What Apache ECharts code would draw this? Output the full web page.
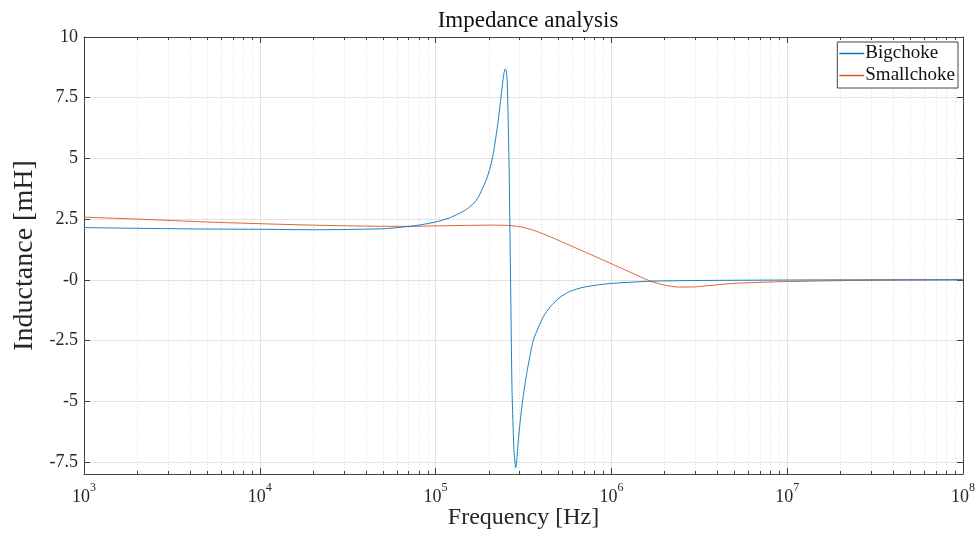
<!DOCTYPE html>
<html>
<head>
<meta charset="utf-8">
<script src="https://cdn.jsdelivr.net/npm/echarts@6/dist/echarts.min.js"></script>
<style>html,body{margin:0;padding:0;background:#fff}#c{width:979px;height:533px}</style>
</head>
<body>
<div id="c"></div>
<script>
// ---- data ----
const bigFreq = [1e3,2e3,5e3,1e4,2e4,3e4,5e4,6.3e4,8e4,1e5,1.2e5,1.35e5,1.5e5,1.65e5,1.75e5,1.87e5,1.95e5,2.05e5,2.13e5,2.2e5,2.28e5,2.34e5,2.40e5,2.44e5,2.47e5,2.49e5,2.52e5,2.55e5,2.58e5,2.62e5,2.67e5,2.72e5,2.79e5,2.84e5,2.86e5,2.89e5,2.94e5,3.02e5,3.15e5,3.3e5,3.45e5,3.6e5,3.85e5,4.1e5,4.5e5,5.1e5,5.8e5,6.9e5,8.6e5,1.0e6,1.66e6,3e6,1e7,3e7,1e8];
const bigVal  = [2.15,2.12,2.09,2.08,2.06,2.07,2.10,2.16,2.25,2.38,2.55,2.72,2.90,3.15,3.40,3.84,4.15,4.65,5.21,5.85,6.65,7.35,8.05,8.45,8.64,8.68,8.62,8.3,7.0,4.5,0.0,-4.5,-7.0,-7.65,-7.74,-7.5,-6.8,-5.91,-4.8,-3.85,-3.1,-2.48,-1.95,-1.52,-1.1,-0.72,-0.48,-0.31,-0.20,-0.15,-0.06,-0.03,-0.01,0,0];
const smallFreq = [1e3,2e3,5e3,1e4,2e4,4e4,7e4,1e5,1.5e5,2e5,2.6e5,3.0e5,3.5e5,4e5,4.5e5,5.5e5,7e5,8.6e5,1e6,1.3e6,1.66e6,2.0e6,2.4e6,3.0e6,4.9e6,9.1e6,2.3e7,1e8];
const smallVal  = [2.58,2.50,2.38,2.31,2.25,2.21,2.20,2.22,2.24,2.25,2.24,2.19,2.07,1.92,1.77,1.49,1.16,0.87,0.66,0.29,-0.05,-0.22,-0.30,-0.29,-0.15,-0.08,-0.03,0];
const yTicks = [-7.5,-5,-2.5,0,2.5,5,7.5,10];
const yTickLabels = ['-7.5','-5','-2.5','-0','2.5','5','7.5','10'];
const decades = [3,4,5,6,7];
const minorMult = [2,3,4,5,6,7,8,9];
const seriesNames = ['Bigchoke','Smallchoke'];

const minorFreqs = [];
decades.forEach(d => minorMult.forEach(m => minorFreqs.push([m*Math.pow(10,d), 0])));

const FONT = '"Liberation Serif", "DejaVu Serif", serif';
const AXC = '#404040';
const TXT = '#262626';
const Y_MIN = -8, Y_MAX = 10;

const chart = echarts.init(document.getElementById('c'), null, {renderer:'canvas'});
chart.setOption({
  animation:false,
  backgroundColor:'#fff',
  title:{text:'Impedance analysis', left:523, top:4, textAlign:'center',
    textStyle:{fontFamily:FONT,fontWeight:'normal',fontSize:23,color:'#111'}},
  grid:{left:84,right:16,top:37,bottom:59,show:false,containLabel:false,outerBoundsMode:'none'},
  legend:{
    right:21, top:42, orient:'vertical', data:seriesNames,
    icon:'rect', itemWidth:25, itemHeight:1.4,
    backgroundColor:'#fff', borderColor:'#444', borderWidth:1,
    padding:[2,3,3,2], itemGap:3,
    textStyle:{fontFamily:FONT,fontSize:19,color:'#111',padding:[0,0,0,-4]}
  },
  xAxis:[{
    type:'log', logBase:10, min:1e3, max:1e8,
    name:'Frequency [Hz]', nameLocation:'middle', nameGap:32, nameMoveOverlap:false,
    nameTextStyle:{fontFamily:FONT,fontSize:24,color:TXT},
    axisLine:{show:true,onZero:false,lineStyle:{color:AXC,width:1}},
    axisTick:{show:true,inside:true,length:6,lineStyle:{color:AXC}},
    splitLine:{show:true,lineStyle:{color:'#e3e3e3',width:1}},
    axisLabel:{margin:8, fontFamily:FONT, fontSize:18, color:TXT,
      formatter:v => '{b|10}{s|' + Math.round(Math.log10(v)) + '}',
      rich:{b:{fontFamily:FONT,fontSize:18,color:TXT,padding:[6,0,0,0]},
            s:{fontFamily:FONT,fontSize:12,color:TXT,verticalAlign:'top',padding:[0,0,0,0]}}}
  },{
    type:'log', logBase:10, min:1e3, max:1e8, position:'top',
    axisLine:{show:true,onZero:false,lineStyle:{color:AXC,width:1}},
    axisTick:{show:true,inside:true,length:6,lineStyle:{color:AXC}},
    axisLabel:{show:false}, splitLine:{show:false}
  }],
  yAxis:[{
    type:'value', min:Y_MIN, max:Y_MAX,
    name:'Inductance [mH]', nameLocation:'middle', nameGap:45, nameMoveOverlap:false,
    nameTextStyle:{fontFamily:FONT,fontSize:28,color:TXT},
    axisLine:{show:true,onZero:false,lineStyle:{color:AXC,width:1}},
    axisTick:{show:true,inside:true,length:6,lineStyle:{color:AXC},customValues:yTicks},
    splitLine:{show:true,lineStyle:{color:'#e3e3e3',width:1}},
    axisLabel:{customValues:yTicks, margin:6, fontFamily:FONT, fontSize:18, color:TXT,
      formatter:v => { const i = yTicks.findIndex(t => Math.abs(t - v) < 1e-9); return i >= 0 ? yTickLabels[i] : ''; }}
  },{
    type:'value', min:Y_MIN, max:Y_MAX, position:'right',
    axisLine:{show:true,onZero:false,lineStyle:{color:AXC,width:1}},
    axisTick:{show:true,inside:true,length:6,lineStyle:{color:AXC},customValues:yTicks},
    axisLabel:{show:false}, splitLine:{show:false}
  }],
  series:[
    {
      type:'custom', silent:true, z:1, xAxisIndex:0, yAxisIndex:0,
      data:minorFreqs,
      renderItem:(params, api) => {
        const f = api.value(0);
        const b = api.coord([f, Y_MIN]);
        const t = api.coord([f, Y_MAX]);
        const x = Math.round(b[0]) + 0.5;
        return {type:'group', children:[
          {type:'line', shape:{x1:x,y1:b[1],x2:x,y2:t[1]}, style:{stroke:'#dedede',lineWidth:1,lineDash:[1,2]}},
          {type:'line', shape:{x1:x,y1:b[1],x2:x,y2:b[1]-3}, style:{stroke:AXC,lineWidth:1}},
          {type:'line', shape:{x1:x,y1:t[1],x2:x,y2:t[1]+3}, style:{stroke:AXC,lineWidth:1}}
        ]};
      }
    },
    {
      name:seriesNames[0], type:'line', symbol:'none', z:3,
      data:bigFreq.map((f,i)=>[f,bigVal[i]]),
      lineStyle:{color:'#0072BD',width:0.9}, itemStyle:{color:'#0072BD'}, smooth:0.2
    },
    {
      name:seriesNames[1], type:'line', symbol:'none', z:2,
      data:smallFreq.map((f,i)=>[f,smallVal[i]]),
      lineStyle:{color:'#D95319',width:0.9}, itemStyle:{color:'#D95319'}, smooth:0.2
    }
  ]
});
</script>
</body>
</html>
